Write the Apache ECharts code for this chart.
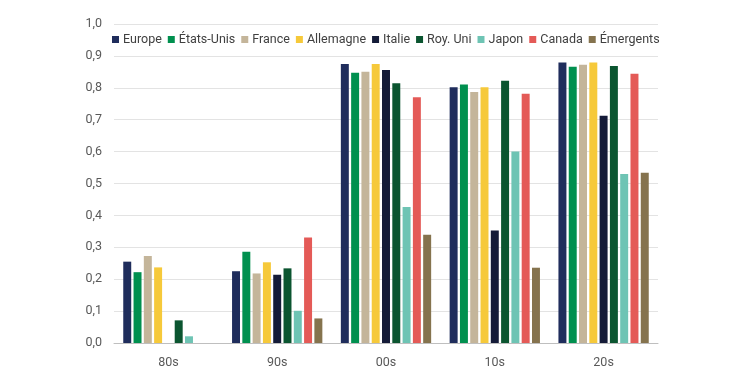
<!DOCTYPE html>
<html>
<head>
<meta charset="utf-8">
<script src="https://cdn.jsdelivr.net/npm/echarts@6/dist/echarts.min.js"></script>
<style>
  html, body { margin: 0; padding: 0; background: #fff; }
  #chart { width: 744px; height: 376px; }
</style>
</head>
<body>
<div id="chart"></div>
<script>
const decades = ['80s', '90s', '00s', '10s', '20s'];

const europe    = [0.255, 0.225, 0.875, 0.802, 0.879];
const etatsUnis = [0.222, 0.286, 0.847, 0.810, 0.866];
const france    = [0.273, 0.218, 0.850, 0.787, 0.872];
const allemagne = [0.237, 0.253, 0.875, 0.802, 0.879];
const italie    = [null,  0.214, 0.856, 0.353, 0.712];
const royUni    = [0.071, 0.234, 0.814, 0.822, 0.868];
const japon     = [0.021, 0.101, 0.426, 0.600, 0.530];
const canada    = [null,  0.331, 0.770, 0.781, 0.844];
const emergents = [null,  0.077, 0.339, 0.236, 0.534];

const seriesList = [
    { name: 'Europe', data: europe, color: '#1F2D5C' },
    { name: 'États-Unis', data: etatsUnis, color: '#00904F' },
    { name: 'France', data: france, color: '#C4B59A' },
    { name: 'Allemagne', data: allemagne, color: '#F6C93A' },
    { name: 'Italie', data: italie, color: '#141B38' },
    { name: 'Roy. Uni', data: royUni, color: '#0B5530' },
    { name: 'Japon', data: japon, color: '#6EC4B4' },
    { name: 'Canada', data: canada, color: '#E45A57' },
    { name: 'Émergents', data: emergents, color: '#85734E' }
];

const font = 'Roboto, "Liberation Sans", sans-serif';
const chart = echarts.init(document.getElementById('chart'));

const option = {
    backgroundColor: '#fff',
    animation: false,
    textStyle: { fontFamily: font },
    legend: {
        top: 33,
        left: 112,
        padding: 0,
        icon: 'rect',
        itemWidth: 7,
        itemHeight: 7,
        itemGap: 6,
        textStyle: { color: '#404040', fontSize: 12.5, fontFamily: font, padding: [0, 0, 0, -1] },
        data: seriesList.map(s => s.name)
    },
    grid: { left: 114, right: 86, top: 24, bottom: 33 },
    xAxis: {
        type: 'category',
        data: decades,
        axisLine: { lineStyle: { color: '#BFBFBF', width: 1 } },
        axisTick: { show: false },
        axisLabel: { color: '#595959', fontSize: 12.5, margin: 13 }
    },
    yAxis: {
        type: 'value',
        min: 0,
        max: 1,
        interval: 0.1,
        axisLine: { show: false },
        axisTick: { show: false },
        splitLine: { lineStyle: { color: '#E3E3E3', width: 1 } },
        axisLabel: {
            color: '#595959',
            fontSize: 12.5,
            margin: 12,
            formatter: v => v.toFixed(1).replace('.', ',')
        }
    },
    series: seriesList.map(s => ({
        name: s.name,
        type: 'bar',
        data: s.data,
        itemStyle: { color: s.color },
        barGap: '29%',
        barCategoryGap: '17%'
    }))
};

chart.setOption(option);
</script>
</body>
</html>
